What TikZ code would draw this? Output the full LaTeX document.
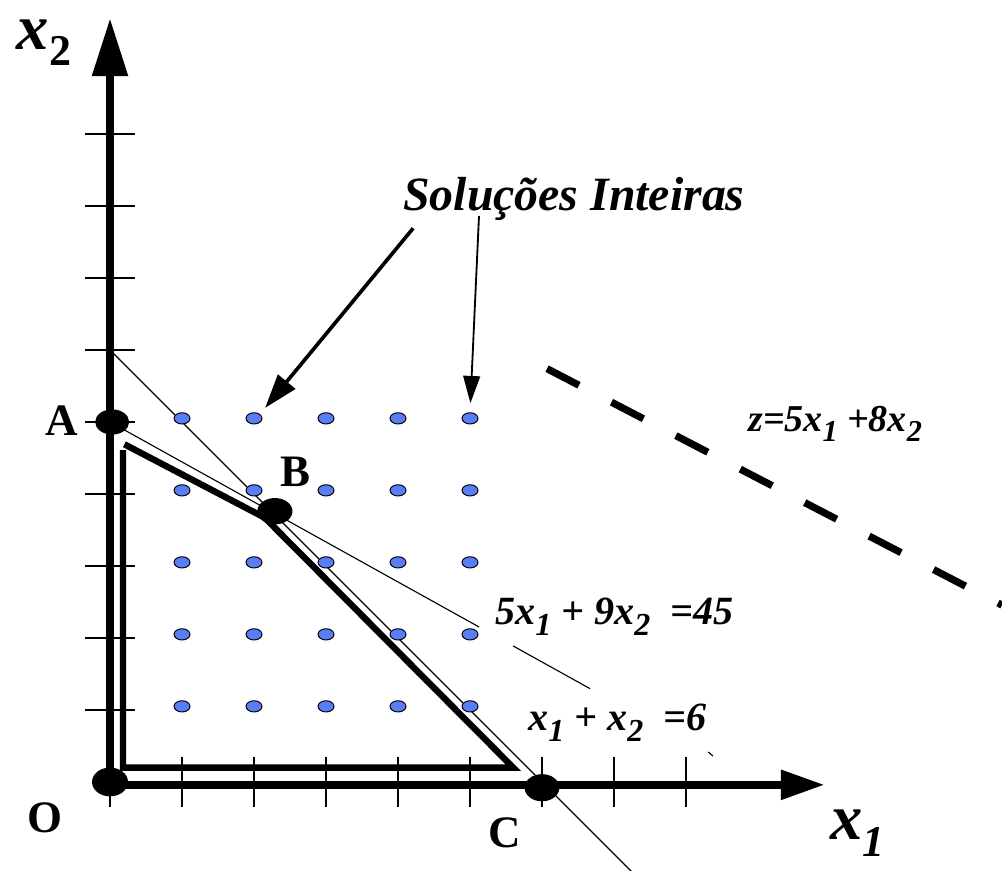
\documentclass[tikz,border=0pt]{standalone}
\usepackage{fontspec}
\setmainfont{Liberation Serif}
\usepackage{tikz}
\usetikzlibrary{arrows.meta,shapes.geometric}
\definecolor{ink}{HTML}{000000}
\definecolor{dotblue}{HTML}{5B7CF7}
\newcommand{\ix}[2][0.8]{\raisebox{-0.26em}{\scalebox{#1}{#2}}}
\tikzset{
  axis/.style={line width=0.21cm, draw=ink},
  tickmark/.style={line width=1.3pt, draw=ink},
  constr/.style={line width=0.8pt, draw=ink},
  region/.style={line width=0.16cm, draw=ink},
  intdot/.style={ellipse, draw=ink, fill=dotblue, line width=0.7pt,
                 minimum width=0.4cm, minimum height=0.28cm, inner sep=0pt},
  vertex/.style={ellipse, fill=ink, minimum width=0.87cm, minimum height=0.68cm, inner sep=0pt},
  ptlabel/.style={font=\fontsize{32}{32}\selectfont\bfseries, anchor=base west, inner sep=0pt},
  axlabel/.style={font=\fontsize{46}{46}\selectfont\bfseries\itshape, anchor=base west, inner sep=0pt},
  eqlabel/.style={font=\fontsize{28.5}{28.5}\selectfont\bfseries\itshape, anchor=base west, inner sep=0pt},
  pointer/.style={-{Triangle[length=0.85cm,width=0.55cm]}, line width=2.6pt, draw=ink},
  thinpointer/.style={-{Triangle[length=0.68cm,width=0.42cm]}, line width=1.3pt, draw=ink}
}

\begin{document}
\begin{tikzpicture}[x=1.8cm,y=1.8cm]
        \useasboundingbox (-1.528,-1.236) rectangle (12.389,10.861);

        % constraint lines
        \draw[constr] (0,6) -- (7.25,-1.25);
        \draw[constr] (0,5) -- (5.125,2.153);
        \draw[constr] (5.597,1.890) -- (6.667,1.296);
        \draw[constr] (8.31,0.417) -- (8.375,0.36);

        % integer hull (drawn slightly inside)
        \draw[region] (0.18,4.61) -- (0.18,0.2) -- (5.6,0.2) -- (2.15,3.67) -- (0.2,4.69);

        % axes and ticks
        \draw[axis,-{Triangle[length=1.45cm,width=0.85cm]}] (0,-0.11) -- (0,10.61);
        \draw[axis,-{Triangle[length=1.1cm,width=0.7cm]}] (-0.07,-0.04) -- (9.93,-0.04);
        \foreach \k in {1,...,9}
          {\draw[tickmark] (-0.35,\k) -- (0.35,\k);}
        \foreach \k in {1,...,8}
          {\draw[tickmark] (\k,-0.35) -- (\k,0.35);}
        \draw[tickmark] (0,-0.35) -- (0,0);

        % integer points
        \foreach \i in {1,...,5}
          \foreach \j in {1,...,5}
            {\node[intdot] (d-\i-\j) at (\i,\j+0.05) {};}

        % vertices
        \node[vertex,minimum width=0.85cm,minimum height=0.63cm] (A) at (0.03,5) {};
        \node[vertex,minimum width=0.88cm,minimum height=0.66cm] (B) at (2.29,3.76) {};
        \node[vertex] (C) at (6.0,-0.08) {};
        \node[vertex,minimum width=0.9cm,minimum height=0.72cm] (O) at (0,0) {};

        % labels
        \node[ptlabel] (la) at (-0.903,4.819) {A};
        \node[ptlabel] (lb) at (2.361,4.097) {B};
        \node[ptlabel] (lo) at (-1.153,-0.708) {O};
        \node[ptlabel] (lc) at (5.25,-0.917) {C};
        \node[axlabel] (x2) at (-1.30,10.18) {x\ix[0.68]{\upshape 2}};
        \node[axlabel] (x1) at (10.0,-0.806) {x\ix[0.68]{1}};
        \node[eqlabel] (e1) at (5.347,2.181) {5x\ix{1} + 9x\ix{2}\ \ =45};
        \node[eqlabel] (e2) at (5.806,0.708) {x\ix{1} + x\ix{2}\ \ =6};
        \node[eqlabel,font=\fontsize{27}{27}\selectfont\bfseries\itshape] (ez) at (8.861,4.861) {z=5x\ix{1} +8x\ix{2}};
        \node[font=\fontsize{34}{34}\selectfont\bfseries\itshape, anchor=base west, inner sep=0pt]
          (sol) at (4.069,7.944) {Soluções Inteiras};

        % objective direction
        \draw[line width=0.18cm, dash pattern=on 0.9cm off 0.915cm] (6.07,5.74) -- (12.389,2.456);

        % pointers to integer points
        \coordinate (s1) at (4.21,7.69);
        \coordinate (s2) at (5.125,7.861);
        \draw[pointer, shorten >=5.7pt] (s1) -- (d-2-5.north east);
        \draw[thinpointer, shorten >=6.5pt] (s2) -- (d-5-5.north);
      \end{tikzpicture}
\end{document}
